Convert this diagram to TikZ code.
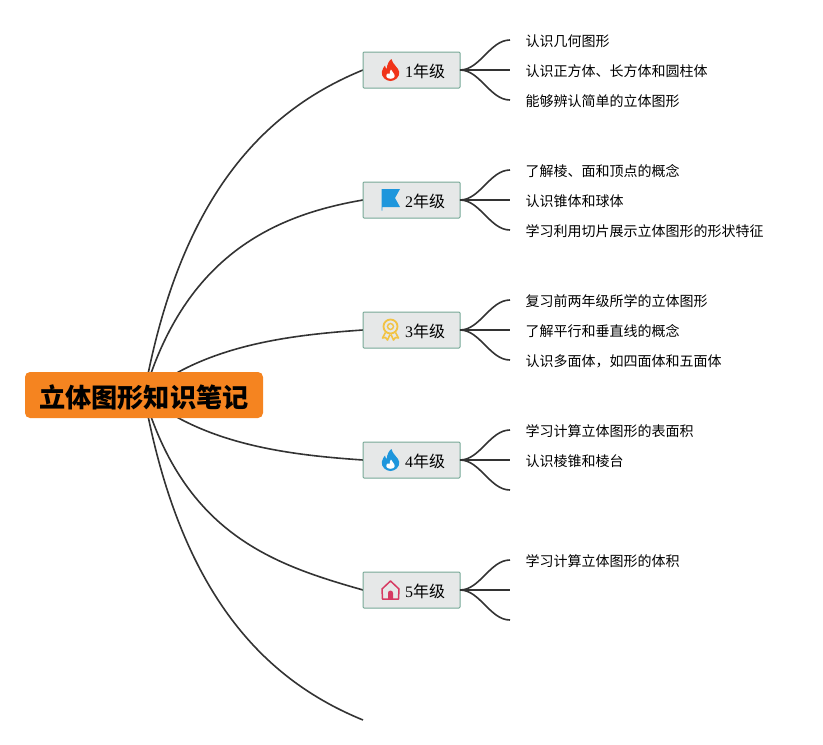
\documentclass[tikz,border=0pt]{standalone}
\usepackage{fontspec}
\setmainfont{Liberation Serif}
\newfontfamily\cjk{Noto Sans CJK SC}
\usetikzlibrary{positioning,backgrounds}
\definecolor{rootfill}{HTML}{F58420}
\definecolor{gradefill}{HTML}{E6E8E8}
\definecolor{gradeline}{HTML}{76A896}
\definecolor{linkcol}{HTML}{333333}
\definecolor{iconred}{HTML}{F0341A}
\definecolor{iconblue}{HTML}{1E96DC}
\definecolor{iconyellow}{HTML}{F2C343}
\definecolor{iconpink}{HTML}{D63A62}
\tikzset{
root/.style = {fill=rootfill, rounded corners=5pt, minimum width=238pt, minimum height=46pt, inner sep=0pt, text height=25.5pt, text depth=0pt, font=\cjk\fontsize{26.2}{30}\selectfont\bfseries},
grade/.style = {draw=gradeline, fill=gradefill, line width=1pt, outer sep=0pt, rounded corners=1pt, minimum width=97pt, minimum height=36pt, inner sep=0pt, text width=67pt, text height=16pt, text depth=2pt, align=right, font=\fontsize{16}{20}\selectfont},
leaf/.style = {inner xsep=15.5pt, inner ysep=0pt, outer sep=0pt, text height=13.5pt, text depth=1pt, font=\cjk\fontsize{14}{18}\selectfont},
link/.style = {draw=linkcol, line width=1.6pt},
twig/.style = {draw=linkcol, line width=1.6pt},
flameicon/.pic = {
  \fill[#1, xscale=0.92] (1,11) .. controls (2,6) and (9,2) .. (9.5,-2) .. controls (10,-7) and (5,-11) .. (0,-11)
    .. controls (-5,-11) and (-10,-7) .. (-9.5,-2) .. controls (-9,1) and (-7,3) .. (-6,4.5)
    .. controls (-5.5,2.5) and (-5,1.5) .. (-4,1) .. controls (-4,5) and (-2,9) .. (1,11) -- cycle;
  \fill[white] (0.5,0.5) .. controls (1,-1.5) and (4.5,-3.5) .. (4.2,-6.5) .. controls (3.8,-9.5) and (-3.8,-9.5) .. (-4.2,-6.5)
    .. controls (-4.4,-5) and (-3.5,-4) .. (-3,-3.5) .. controls (-2,-4) and (-1,-4) .. (-0.5,-3.5)
    .. controls (-1,-2.5) and (-0.5,-0.5) .. (0.5,0.5) -- cycle;
},
flagicon/.pic = {
  \fill[#1] (-9,11) -- (9.5,11) -- (4.5,2) -- (9.5,-7) -- (-8.2,-7) -- (-8.2,-10.5) -- (-9,-10.5) -- cycle;
},
medalicon/.pic = {
  \draw[#1, line width=1.8pt] (0,3.5) circle (7);
  \draw[#1, line width=1.4pt] (0,3.5) circle (3);
  \draw[#1, line width=1.6pt, line join=round] (-5,-2.5) -- (-8,-8) -- (-5,-7.5) -- (-3,-10) -- (-0.5,-4.5) (0.5,-4.5) -- (3,-10) -- (5,-7.5) -- (8,-8) -- (5,-2.5);
},
houseicon/.pic = {
  \draw[#1, line width=1.5pt, line join=round] (-8,-9) -- (8,-9) -- (8.5,1) -- (0,9) -- (-8.5,1) -- cycle;
  \fill[#1] (-2.5,-9) -- (-2.5,-3) arc (180:0:2.5) -- (2.5,-9) -- cycle;
},
}
\begin{document}
\begin{tikzpicture}[x=1pt, y=1pt, node distance=130pt]
    \useasboundingbox (0,0) rectangle (823,-745);
    \node [root] (root) at (144,-395) {立体图形知识笔记};
    \node [grade] (g1) at (411.5,-70) {1{\cjk 年级}};
    \node [grade, below of=g1] (g2) {2{\cjk 年级}};
    \node [grade, below of=g2] (g3) {3{\cjk 年级}};
    \node [grade, below of=g3] (g4) {4{\cjk 年级}};
    \node [grade, below of=g4] (g5) {5{\cjk 年级}};
    \coordinate (end6) at (363,-720);
    \pic at ([xshift=-21pt]g1.center) {flameicon=iconred};
    \pic at ([xshift=-21pt]g2.center) {flagicon=iconblue};
    \pic at ([xshift=-21pt]g3.center) {medalicon=iconyellow};
    \pic at ([xshift=-21pt]g4.center) {flameicon=iconblue};
    \pic at ([xshift=-21pt]g5.center) {houseicon=iconpink};
    % leaves
    \node [leaf, right=50pt of g1, yshift=30pt] (a1) {认识几何图形};
    \node [leaf, right=50pt of g1] (a2) {认识正方体、长方体和圆柱体};
    \node [leaf, right=50pt of g1, yshift=-30pt] (a3) {能够辨认简单的立体图形};
    \node [leaf, right=50pt of g2, yshift=30pt] (b1) {了解棱、面和顶点的概念};
    \node [leaf, right=50pt of g2] (b2) {认识锥体和球体};
    \node [leaf, right=50pt of g2, yshift=-30pt] (b3) {学习利用切片展示立体图形的形状特征};
    \node [leaf, right=50pt of g3, yshift=30pt] (c1) {复习前两年级所学的立体图形};
    \node [leaf, right=50pt of g3] (c2) {了解平行和垂直线的概念};
    \node [leaf, right=50pt of g3, yshift=-30pt] (c3) {认识多面体，如四面体和五面体};
    \node [leaf, right=50pt of g4, yshift=30pt] (d1) {学习计算立体图形的表面积};
    \node [leaf, right=50pt of g4] (d2) {认识棱锥和棱台};
    \coordinate [right=50pt of g4, yshift=-30pt] (d3);
    \node [leaf, right=50pt of g5, yshift=30pt] (e1) {学习计算立体图形的体积};
    \coordinate [right=50pt of g5] (e2);
    \coordinate [right=50pt of g5, yshift=-30pt] (e3);
    % main branches
    \begin{scope}[on background layer]
    \draw [link] (root.center) .. controls (180,-195) and (265,-110) .. (g1.west);
    \draw [link] (root.center) .. controls (185,-255) and (275,-215) .. (g2.west);
    \draw [link] (root.center) .. controls (205,-345) and (290,-335) .. (g3.west);
    \draw [link] (root.center) .. controls (205,-445) and (290,-455) .. (g4.west);
    \draw [link] (root.center) .. controls (185,-535) and (275,-565) .. (g5.west);
    \draw [link] (root.center) .. controls (180,-595) and (265,-680) .. (end6);
    \end{scope}
    % twigs
    \draw [twig] (g1.east) .. controls +(20,0) and +(-20,0) .. (a1.west);
    \draw [twig] (g1.east) -- (a2.west);
    \draw [twig] (g1.east) .. controls +(20,0) and +(-20,0) .. (a3.west);
    \draw [twig] (g2.east) .. controls +(20,0) and +(-20,0) .. (b1.west);
    \draw [twig] (g2.east) -- (b2.west);
    \draw [twig] (g2.east) .. controls +(20,0) and +(-20,0) .. (b3.west);
    \draw [twig] (g3.east) .. controls +(20,0) and +(-20,0) .. (c1.west);
    \draw [twig] (g3.east) -- (c2.west);
    \draw [twig] (g3.east) .. controls +(20,0) and +(-20,0) .. (c3.west);
    \draw [twig] (g4.east) .. controls +(20,0) and +(-20,0) .. (d1.west);
    \draw [twig] (g4.east) -- (d2.west);
    \draw [twig] (g4.east) .. controls +(20,0) and +(-20,0) .. (d3);
    \draw [twig] (g5.east) .. controls +(20,0) and +(-20,0) .. (e1.west);
    \draw [twig] (g5.east) -- (e2);
    \draw [twig] (g5.east) .. controls +(20,0) and +(-20,0) .. (e3);
\end{tikzpicture}
\end{document}
